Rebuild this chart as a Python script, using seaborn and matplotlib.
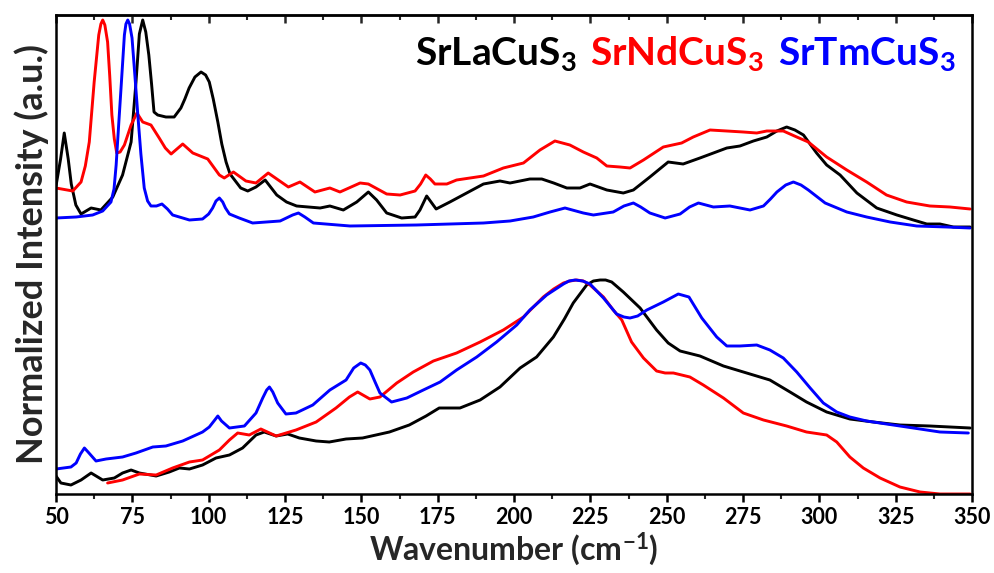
import matplotlib
matplotlib.use("Agg")
import matplotlib.pyplot as plt
import seaborn as sns
import pandas as pd
from matplotlib.ticker import MultipleLocator

# ---------------- data (arbitrary intensity units) ----------------
labels = ["SrLaCuS$_3$", "SrNdCuS$_3$", "SrTmCuS$_3$"]
colors = ["#000000", "#ff0000", "#0000ff"]

# upper (offset) spectra
la_top_x = [50, 51.5, 52.7, 54, 55, 56.5, 58.2, 61.5, 64.7, 68.6, 71.8, 74.6, 76.2, 77.3, 78.4, 79.4, 80.4,
            81.3, 82.1, 83.3, 86, 88.7, 90.9, 92.2, 93.6, 95.5, 97.5, 99, 100.2, 101.5, 103, 104.3, 105.7,
            107, 109, 110.5, 112.8, 115.5, 118.5, 122.3, 125.5, 128.8,
            136.5, 139.7, 144.1, 148.5, 152.3, 155, 158.3, 163.2, 167.6, 169.2, 171.4, 174.5, 179, 184.5,
            190, 195.4, 198.7, 205.2, 209.1, 213, 217.3, 221.6, 224.9, 230.4, 235.8, 239.1, 244.5, 250.5, 255.4,
            260.9, 265.3, 269.7, 274, 278.4, 282.8, 286.1, 289.3, 292, 294.8, 299.1, 302.4, 306.8, 312.3, 318.8,
            325.4, 330.8, 335.2, 339.5, 343.9, 349.4]
la_top_y = [308, 335, 361, 335, 310, 289, 280, 286, 284, 297, 319, 352, 412, 460, 474, 462, 439,
            410, 382, 379, 377, 377, 386, 395, 406, 417, 422, 419, 412, 395, 372, 350, 332,
            320, 312, 306, 303, 307, 314, 299, 292, 288,
            286, 288, 284, 292, 302, 294, 281, 276, 277, 284, 298, 285, 292, 301,
            310, 313, 311, 315, 315, 311, 306, 306, 310, 304, 301, 304, 317, 332, 330,
            336, 341, 346, 348, 353, 357, 363, 367, 364, 359, 341, 329, 319, 301, 286,
            279, 274, 270, 270, 267, 267]

nd_top_x = [50, 55.5, 58.2, 59.6, 60.9, 62.5, 64, 64.7, 65.3, 66, 66.9, 67.6, 68.3, 69.1, 69.9, 71, 72.4,
            74.6, 76.5, 78.4, 81.1, 83.8, 85.8,
            87.7, 89.6, 91.5, 94.8, 99.7, 103.5, 105.1, 108.1, 112.2, 115.5, 119.5, 126.1, 129.9, 134.8, 139.7,
            143, 149.6, 152.3, 158.3, 162.7, 167.6, 169.4, 171.1, 172.6, 174.1, 178, 181.2, 190, 196.5, 203.1,
            208.5, 213.4, 218.3, 222.7, 227.1, 230.4, 234.7, 238, 242.4, 248.9, 254.9, 258.7, 264.2, 269.7,
            275.1, 279.5, 282.8, 288.2, 292.6, 296.4, 302.4, 309, 315.5, 322, 328.6, 336.2, 342.8, 349.4]
nd_top_y = [306, 303, 312, 328, 352, 412, 459, 470, 474, 469, 452, 418, 379, 355, 341, 342, 349,
            369, 381, 372, 369, 356, 346,
            340, 345, 350, 341, 335, 319, 316, 322, 313, 311, 321, 307, 312, 302, 306,
            302, 311, 310, 300, 299, 303, 310, 319, 315, 310, 310, 314, 318, 326, 331,
            344, 353, 349, 342, 336, 328, 327, 326, 334, 347, 351, 357, 364, 363,
            362, 361, 363, 363, 357, 352, 337, 324, 312, 299, 292, 288, 287, 285]

tm_top_x = [50, 56.6, 62, 65.3, 68, 69, 69.7, 70.5, 71.3, 72.4, 72.9, 73.5, 74.1, 74.9, 75.8, 76.8, 77.8,
            78.9, 80, 81.1, 82.9, 84.7, 86.5, 88.2, 93.7,
            98, 100, 101.3, 102.4, 103.5, 104.6, 105.5, 106.8, 110, 114.4, 123.4, 127.5, 129.4, 131.5,
            134.3, 146.3, 168.1, 190, 198.7, 206.3,
            211.8, 216.7, 222.7, 226, 232.5, 236, 239.1, 241.5, 244.5, 249.5, 254.4, 257.5, 260.4, 265.3,
            270.7, 277.3, 281.7, 284, 286.1, 289, 291.5, 294, 296.4, 301.9, 309, 315.5, 323.2, 331.9, 341.7,
            349.4]
tm_top_y = [276, 277, 279, 283, 292, 305, 329, 368, 406, 459, 470, 474, 470, 456, 420, 379, 340,
            306, 293, 288, 288, 290, 285, 279, 274,
            275, 280, 286, 293, 296, 292, 286, 280, 276, 271, 273, 279, 281, 277,
            271, 268, 269, 271, 273, 277,
            282, 286, 281, 279, 282, 288, 291, 287, 281, 276, 280, 287, 291, 287,
            288, 284, 288, 295, 302, 309, 312, 309, 304, 291, 282, 277, 272, 268, 267,
            266]

# lower spectra
la_bot_x = [50, 51.6, 54.9, 58.2, 61.5, 65.3, 69.1, 71.8, 74.6, 77.3, 82.8, 87.1, 90.4, 93.7, 98, 102.4,
            106.8, 111.1, 115.5, 118.2, 122.1, 125.9, 129.7, 135.2, 139.5, 145, 150.4, 154.8, 159.2,
            165.7, 171.2, 175.5, 182.3, 188.9, 195.4, 202, 207.4, 212.9, 216.5, 219.4, 223.8, 226, 228.2,
            230, 232, 235.8, 241.3, 246.7, 250.5, 254.4, 260.9, 268.6, 276.2, 283.8, 290.4, 295.8, 302.4,
            310, 317.7, 326.4, 336.2, 349.4]
la_bot_y = [18, 11, 9, 14, 21, 14, 16, 21, 24, 21, 18, 22, 26, 25, 29, 36,
            39, 46, 59, 62, 58, 60, 56, 53, 52, 55, 56, 59, 62,
            69, 78, 86, 86, 94, 107, 126, 137, 157, 175, 191, 209, 213, 214,
            214, 212, 202, 186, 164, 151, 143, 138, 128, 121, 114, 102, 92, 82,
            75, 72, 69, 68, 66]

nd_bot_x = [66.9, 71.8, 77.3, 82.8, 88.2, 93.7, 98, 103.5, 106.8, 109.5, 113.3, 117.1, 122.1, 128.6,
            135.2, 141.7, 146.1, 148.8, 152.8, 156.1, 161.6, 167, 173.6, 181.2, 188.9, 196.5, 203.1,
            209.6, 213, 216.2, 218.3, 220.5, 222.7, 224.9, 229.3, 232.5, 235.3, 238.5, 242.4, 246.7,
            249.5, 252.2, 257.6, 262, 268.6, 275.1, 281.7, 289.3, 295.8, 302.4, 305.7, 310, 314.4, 319.9,
            326.4, 333, 339.5, 349.4]
nd_bot_y = [11, 14, 20, 19, 26, 32, 34, 44, 54, 61, 59, 65, 58, 64,
            72, 86, 97, 102, 95, 97, 111, 122, 133, 141, 152, 164, 177,
            197, 205, 211, 213, 214, 213, 209, 197, 184, 174, 152, 136, 123,
            121, 121, 117, 109, 96, 81, 74, 68, 62, 59, 52, 37, 26, 16,
            7, 2, 0, 0]

tm_bot_x = [50, 54.9, 56.6, 58, 59.3, 60.5, 63.1, 66.4, 71.8, 76.2, 81.7, 86, 91.5, 98, 100.2, 102, 103,
            104.2, 106.8, 111.7, 115.5, 117.7, 119, 119.9, 121, 122.6, 125.3, 128.6, 134.1, 139.7, 145,
            147.5, 149.8, 151.3, 152.8, 154.5, 156.1, 159.9, 164.9, 170.3, 175.8, 181.2, 187.8, 194.3,
            200.9, 205.2, 210.7, 216.2, 218, 220, 222.5, 224.9, 229.3, 233.6, 236, 238, 240.5, 243.5,
            248.9, 253.8, 257.3, 261.5, 266.4, 269.7, 274, 279.5, 283.8, 288.2, 292.6, 297, 301.3, 305.7,
            310, 315.5, 322, 330.8, 339.5, 348.8]
tm_bot_y = [25, 27, 31, 40, 46, 42, 33, 35, 37, 41, 47, 48, 53, 62, 67, 74, 78,
            73, 66, 68, 81, 96, 104, 107, 102, 91, 80, 81, 89, 104, 114,
            126, 131, 129, 124, 112, 101, 92, 96, 104, 112, 124, 137, 152,
            169, 184, 199, 210, 213, 214, 213, 210, 196, 180, 177, 176, 178, 184,
            192, 200, 197, 176, 157, 148, 148, 149, 144, 136, 122, 106, 91, 82,
            77, 73, 70, 66, 62, 61]

# axis ranges
x_min, x_max = 50, 350
y_min, y_max = 0, 479

# ---------------- styling ----------------
sns.set_theme(style="ticks")
plt.rcParams['font.family'] = ['Lato', 'DejaVu Sans']
plt.rcParams['font.weight'] = 'bold'
plt.rcParams['mathtext.fontset'] = 'custom'
plt.rcParams['mathtext.rm'] = 'Lato:bold'
plt.rcParams['mathtext.it'] = 'Lato:bold'
plt.rcParams['mathtext.bf'] = 'Lato:bold'
plt.rcParams['mathtext.default'] = 'rm'

W, H = 995, 573
fig = plt.figure(figsize=(W / 100, H / 100), dpi=100)
ax = fig.add_axes([56 / W, 1 - 494 / H, (972 - 56) / W, (494 - 15) / H])

series = [
    (la_top_x, la_top_y, colors[0]),
    (nd_top_x, nd_top_y, colors[1]),
    (tm_top_x, tm_top_y, colors[2]),
    (la_bot_x, la_bot_y, colors[0]),
    (nd_bot_x, nd_bot_y, colors[1]),
    (tm_bot_x, tm_bot_y, colors[2]),
]
for xs, ys, c in series:
    df = pd.DataFrame({"x": xs, "y": ys})
    line_ax = sns.lineplot(data=df, x="x", y="y", color=c, linewidth=2.1, ax=ax,
                           estimator=None, sort=False)
for ln in ax.get_lines():
    ln.set_solid_joinstyle('round')
    ln.set_solid_capstyle('round')

ax.set_xlim(x_min, x_max)
ax.set_ylim(y_min, y_max)
ax.xaxis.set_major_locator(MultipleLocator(25))
ax.xaxis.set_minor_locator(MultipleLocator(12.5))
ax.set_yticks([])
ax.tick_params(axis='x', which='major', direction='out', length=6, width=1.8,
               labelsize=15.5, pad=3, colors='black')
ax.tick_params(axis='x', which='minor', direction='out', length=3.5, width=1.5)
for lab in ax.get_xticklabels():
    lab.set_fontweight('bold')
for s in ax.spines.values():
    s.set_linewidth(1.8)
    s.set_color('black')
    s.set_visible(True)

sec = ax.secondary_xaxis('top')
sec.xaxis.set_major_locator(MultipleLocator(25))
sec.xaxis.set_minor_locator(MultipleLocator(12.5))
sec.tick_params(axis='x', which='major', direction='in', length=6, width=1.8, labeltop=False)
sec.tick_params(axis='x', which='minor', direction='in', length=3.5, width=1.5)
sec.spines['top'].set_linewidth(1.8)

ax.set_xlabel("Wavenumber (cm$^{-1}$)", fontsize=23, fontweight='bold', labelpad=2)
ax.set_ylabel("Normalized Intensity (a.u.)", fontsize=26, fontweight='bold', labelpad=5)

# coloured legend text
legend_x = [415, 590, 778]
for lab, c, lx in zip(labels, colors, legend_x):
    fig.text(lx / W, 1 - 65 / H, lab, color=c, fontsize=28, fontweight='bold',
             ha='left', va='baseline')

fig.savefig("out.png", dpi=100)
